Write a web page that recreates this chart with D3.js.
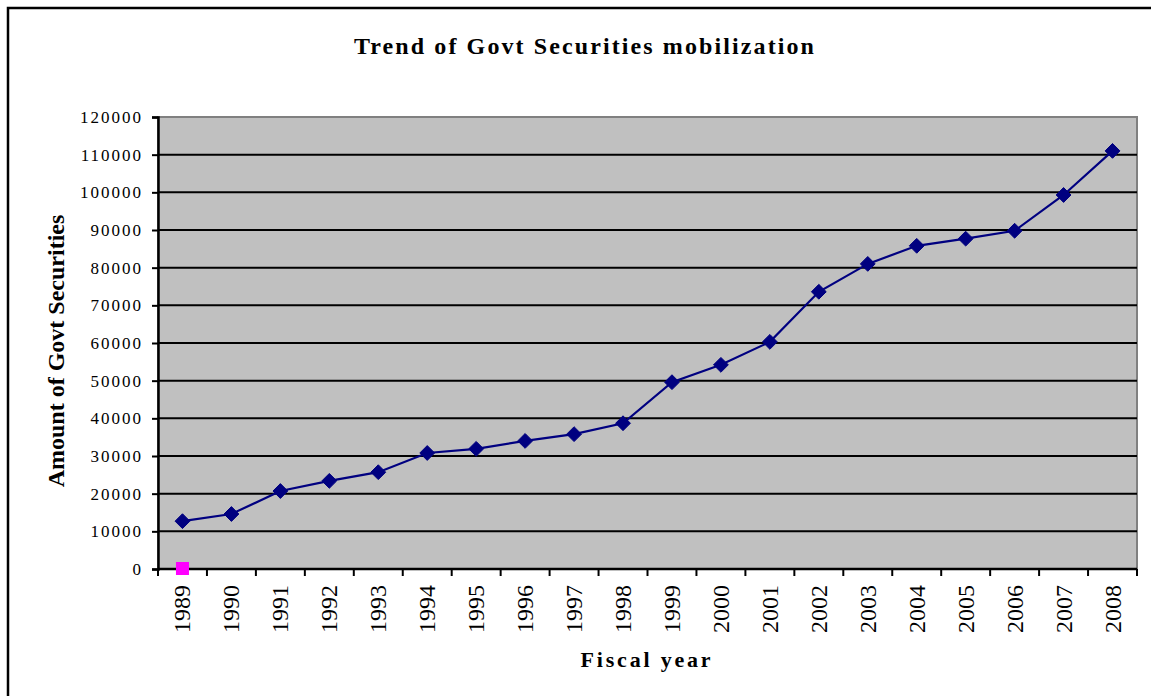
<!DOCTYPE html>
<html>
<head>
<meta charset="utf-8">
<script src="https://cdn.jsdelivr.net/npm/d3@7"></script>
<style>
  html, body { margin: 0; padding: 0; background: #fff; }
  svg { display: block; }
  text { font-family: "Liberation Serif", "Times New Roman", serif; }
</style>
</head>
<body>
<svg id="chart" width="1151" height="696"></svg>
<script>
// Fiscal years and amounts of government securities mobilized
const years = ["1989","1990","1991","1992","1993","1994","1995","1996","1997","1998",
               "1999","2000","2001","2002","2003","2004","2005","2006","2007","2008"];
const amounts = [12700, 14600, 20700, 23400, 25700, 30800, 31900, 34000, 35800, 38700,
                 49600, 54200, 60300, 73600, 81000, 85800, 87700, 89800, 99300, 111000];
// Second series: a single point at 1989
const secondYears = ["1989"];
const secondValues = [0];
const yTicks = [0, 10000, 20000, 30000, 40000, 50000, 60000, 70000, 80000, 90000, 100000, 110000, 120000];

const FONT = "'Liberation Serif', 'Times New Roman', serif";
const svg = d3.select("#chart");
const W = 1151, H = 696;
const plot = { left: 158, right: 1137, top: 117, bottom: 569 };

// Outer frame
svg.append("rect")
  .attr("x", 8).attr("y", 8)
  .attr("width", W + 10).attr("height", H + 10)
  .attr("fill", "#fff").attr("stroke", "#000").attr("stroke-width", 2.5);

const x = d3.scaleBand().domain(years).range([plot.left, plot.right]).paddingInner(0).paddingOuter(0);
const y = d3.scaleLinear().domain([0, 120000]).range([plot.bottom, plot.top]);

// Plot area background
svg.append("rect")
  .attr("x", plot.left).attr("y", plot.top)
  .attr("width", plot.right - plot.left).attr("height", plot.bottom - plot.top)
  .attr("fill", "#c0c0c0").attr("stroke", "#808080").attr("stroke-width", 2);

// Horizontal gridlines
svg.append("g").selectAll("line")
  .data(yTicks.filter(v => v > 0 && v < 120000))
  .join("line")
  .attr("x1", plot.left).attr("x2", plot.right)
  .attr("y1", d => y(d)).attr("y2", d => y(d))
  .attr("stroke", "#000").attr("stroke-width", 2);

// Y axis
const yAxis = svg.append("g")
  .attr("transform", `translate(${plot.left},0)`)
  .call(d3.axisLeft(y).tickValues(yTicks).tickSize(6).tickPadding(9).tickFormat(d3.format("d")))
  .attr("font-family", FONT);
yAxis.select(".domain").attr("stroke", "#000").attr("stroke-width", 2.5);
yAxis.selectAll(".tick line").attr("stroke", "#000").attr("stroke-width", 2);
yAxis.selectAll(".tick text")
  .attr("font-family", FONT)
  .attr("font-size", 17).attr("letter-spacing", 2).attr("fill", "#000");

// X axis with ticks at category boundaries
const xAxisG = svg.append("g").attr("transform", `translate(0,${plot.bottom})`);
xAxisG.append("line")
  .attr("x1", plot.left).attr("x2", plot.right)
  .attr("stroke", "#000").attr("stroke-width", 2.5);
const bounds = years.map(d => x(d)).concat([x(years[years.length - 1]) + x.bandwidth()]);
xAxisG.selectAll("line.tick").data(bounds).join("line")
  .attr("class", "tick")
  .attr("x1", d => d).attr("x2", d => d)
  .attr("y1", 0).attr("y2", 7)
  .attr("stroke", "#000").attr("stroke-width", 2);
xAxisG.selectAll("text").data(years).join("text")
  .attr("transform", d => `translate(${x(d) + x.bandwidth() / 2 + 8},16) rotate(-90)`)
  .attr("text-anchor", "end")
  .attr("font-family", FONT)
  .attr("font-size", 24).attr("fill", "#000")
  .text(d => d);

// Series line
const line = d3.line()
  .x((d, i) => x(years[i]) + x.bandwidth() / 2)
  .y(d => y(d));
svg.append("path")
  .datum(amounts)
  .attr("d", line)
  .attr("fill", "none").attr("stroke", "#000080").attr("stroke-width", 2.2);

// Diamond markers
const diamond = d3.symbol().type(d3.symbolDiamond2).size(140);
svg.append("g").selectAll("path")
  .data(amounts)
  .join("path")
  .attr("transform", (d, i) => `translate(${x(years[i]) + x.bandwidth() / 2},${y(d)})`)
  .attr("d", diamond)
  .attr("fill", "#000080").attr("stroke", "#000080").attr("stroke-width", 1);

// Second series marker
svg.append("g").selectAll("rect")
  .data(secondValues)
  .join("rect")
  .attr("x", (d, i) => x(secondYears[i]) + x.bandwidth() / 2 - 6.5)
  .attr("y", d => y(d) - 7)
  .attr("width", 13).attr("height", 13)
  .attr("fill", "#ff00ff");

// Title
svg.append("text")
  .attr("x", 585).attr("y", 54)
  .attr("text-anchor", "middle")
  .attr("font-family", FONT)
  .attr("font-weight", "bold").attr("font-size", 24).attr("letter-spacing", 2.1).attr("fill", "#000")
  .text("Trend of Govt Securities mobilization");

// Axis titles
svg.append("text")
  .attr("transform", "translate(64,351) rotate(-90)")
  .attr("text-anchor", "middle")
  .attr("font-family", FONT)
  .attr("font-weight", "bold").attr("font-size", 24).attr("fill", "#000")
  .text("Amount of Govt Securities");

svg.append("text")
  .attr("x", 647).attr("y", 667)
  .attr("text-anchor", "middle")
  .attr("font-family", FONT)
  .attr("font-weight", "bold").attr("font-size", 22).attr("letter-spacing", 2.8).attr("fill", "#000")
  .text("Fiscal year");
</script>
</body>
</html>
